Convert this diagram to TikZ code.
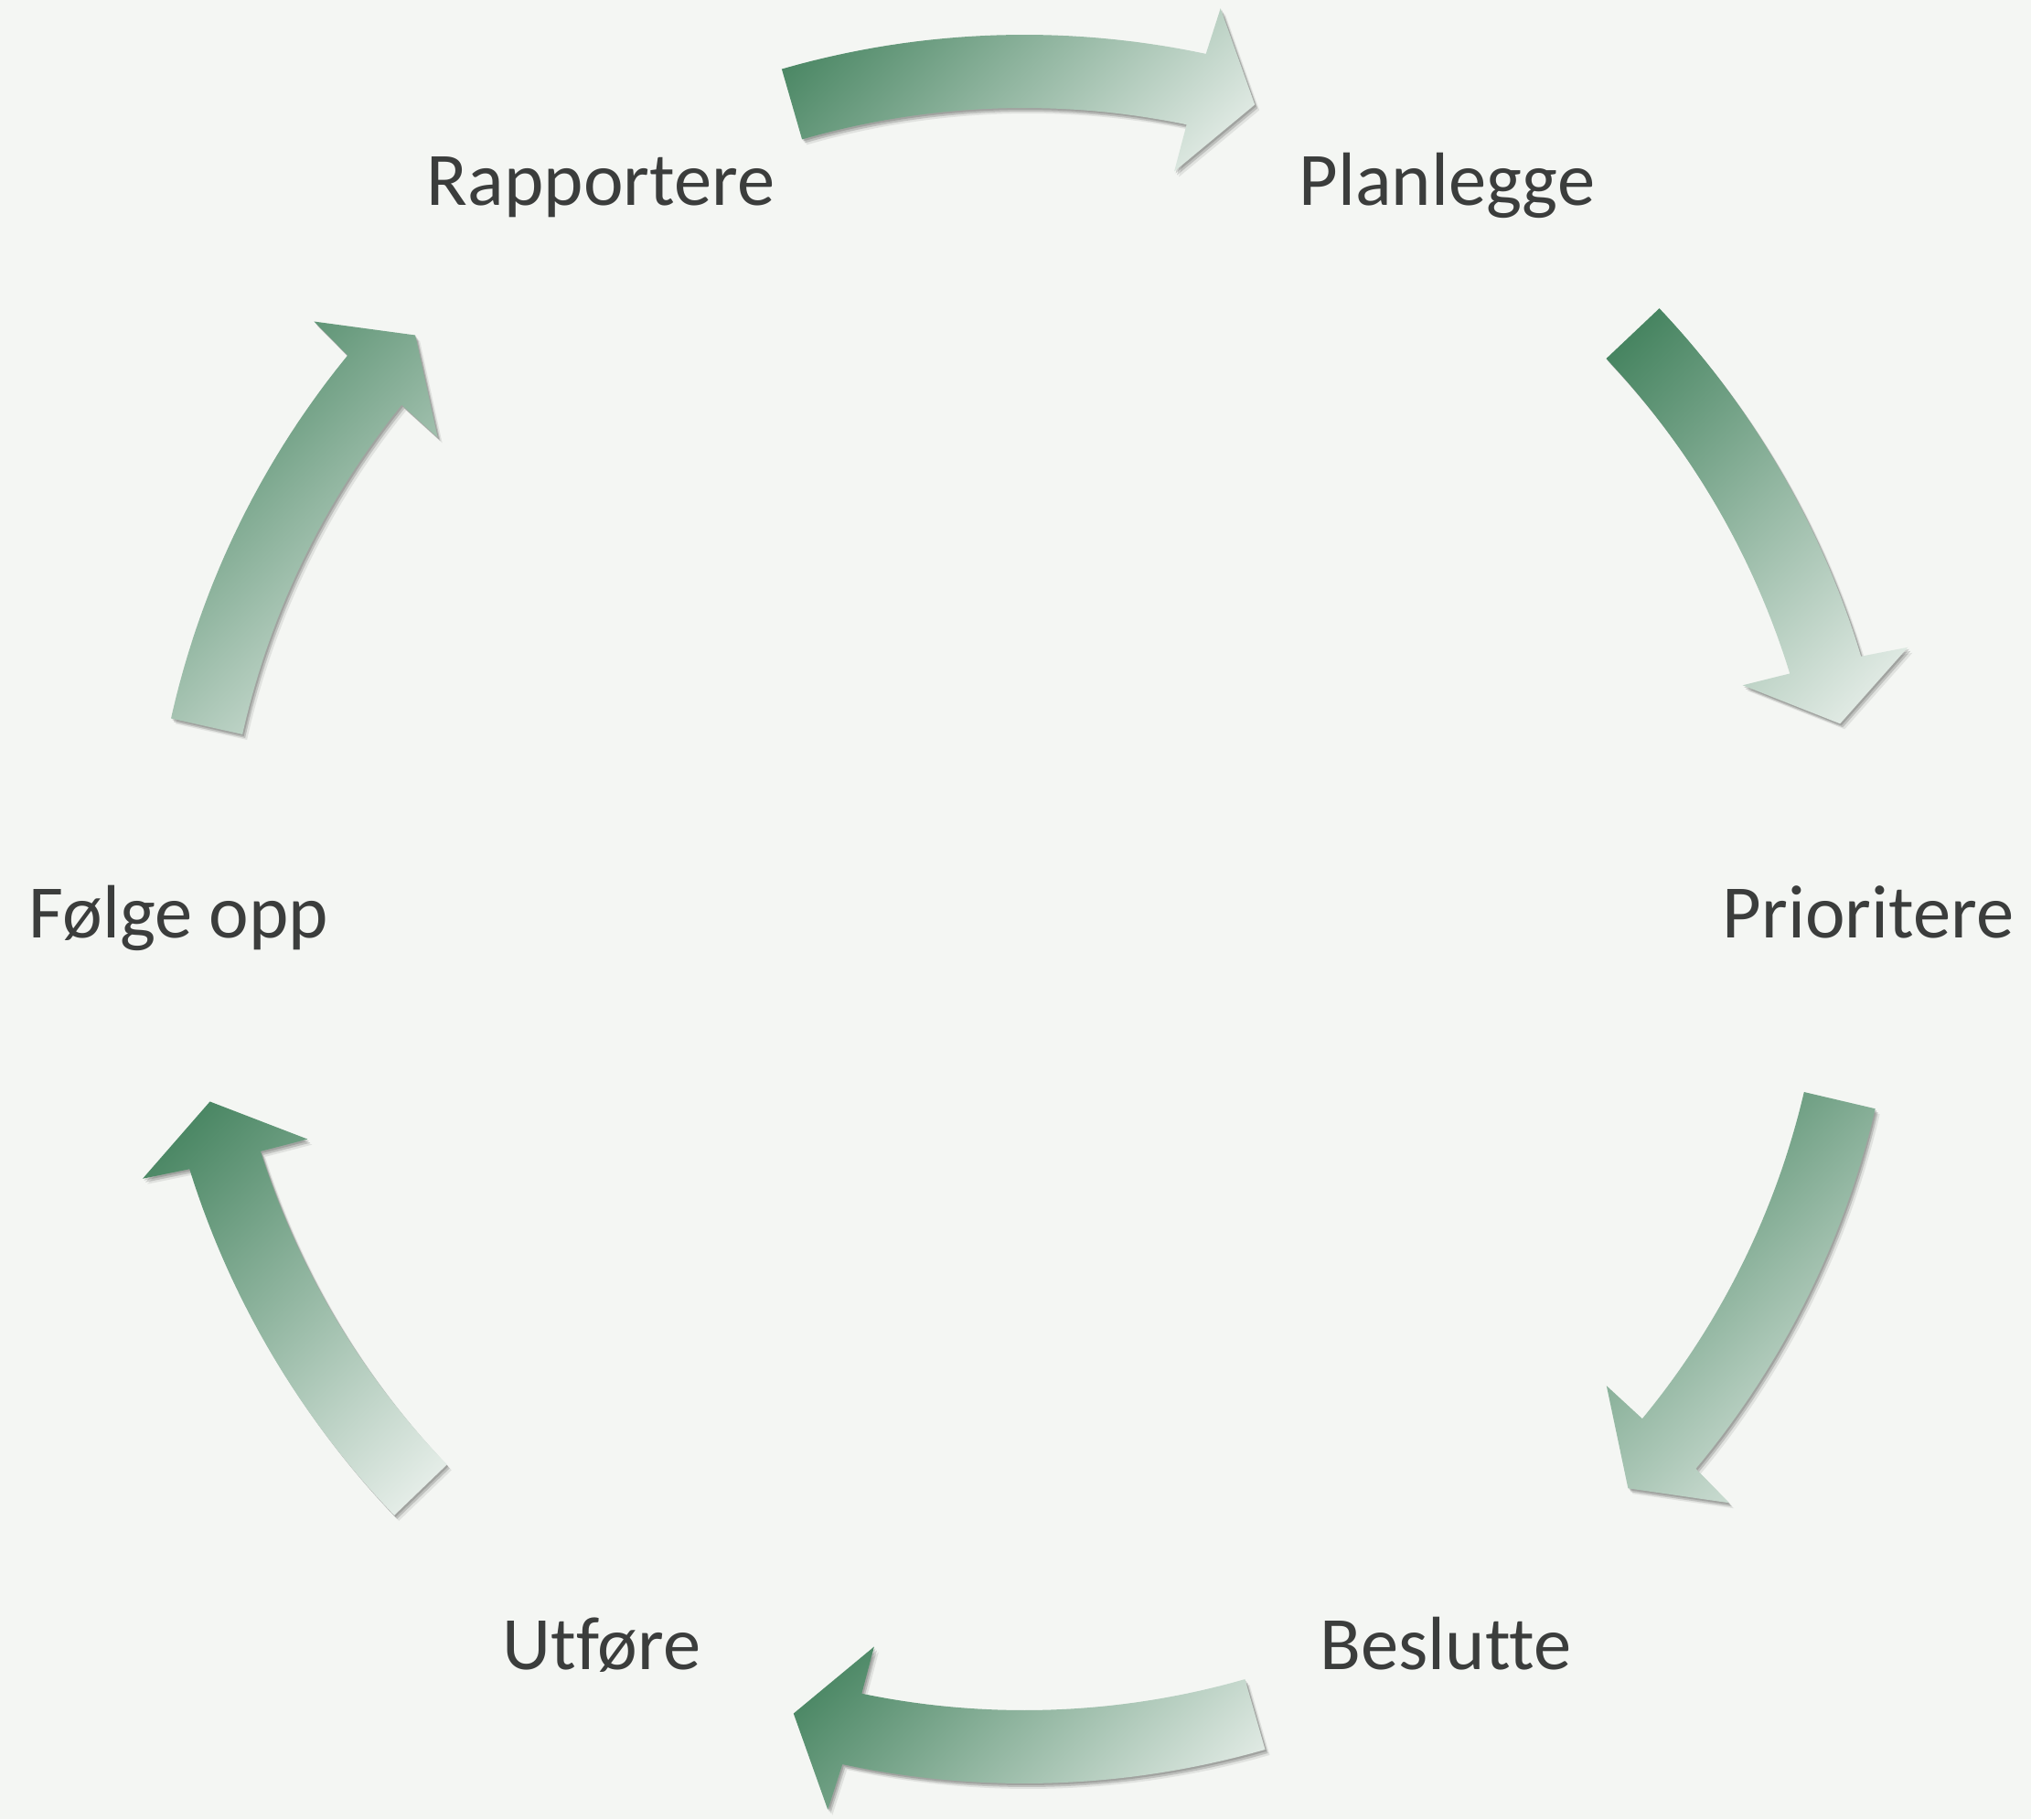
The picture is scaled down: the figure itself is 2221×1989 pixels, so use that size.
\documentclass[tikz,border=0pt]{standalone}
\usepackage{fontspec}
\setmainfont{Carlito}[Ligatures=NoCommon]
\definecolor{bg}{HTML}{F4F6F3}
\definecolor{grnD}{HTML}{3A7C56}
\definecolor{grnL}{HTML}{F1F5F2}
\definecolor{txt}{HTML}{3B3D3C}
\pgfdeclareverticalshading{cycshade}{100bp}{color(0bp)=(grnL); color(14.64bp)=(grnL); color(85.36bp)=(grnD); color(100bp)=(grnD)}
\tikzset{
  lbl/.style={font=\fontsize{47}{56}\selectfont, text=txt, inner sep=0pt, anchor=base},
  arrowfill/.style={shading=cycshade, shading angle=45},
  arrowshadow/.style={fill=black, opacity=0.15}
}
\newcommand{\cycarrowpath}{(\ta:956) -- plot[domain=\ta:\bo, samples=60] (\x:956) -- (\co:1008) -- (\tb:915) -- (\ci:823) -- (\bi:876) -- plot[domain=\bi:\ta, samples=60] (\x:876) -- cycle}
\newcommand{\cycarrow}[2]{%
  \pgfmathsetmacro{\ta}{#1}%
  \pgfmathsetmacro{\tb}{#2}%
  \pgfmathsetmacro{\bo}{\tb+4.0}%
  \pgfmathsetmacro{\co}{\tb+3.7}%
  \pgfmathsetmacro{\ci}{\tb+4.5}%
  \pgfmathsetmacro{\bi}{\tb+4.3}%
  \fill[arrowshadow, opacity=0.08, shift={(5,-6)}] \cycarrowpath;
  \fill[arrowshadow, shift={(3,-4)}] \cycarrowpath;
  \fill[arrowshadow, shift={(1.5,-2)}] \cycarrowpath;
  \path[arrowfill] \cycarrowpath;
}
\begin{document}
\begin{tikzpicture}[x=0.02cm,y=0.02cm]
\fill[bg] (-1120,-995) rectangle (1101,994);
\useasboundingbox (-1120,-995) rectangle (1101,994);

\cycarrow{106.1}{74.0}
\cycarrow{43.4}{12.8}
\cycarrow{-13.2}{-43.8}
\cycarrow{-74.0}{-106.0}
\cycarrow{-136.1}{-166.7}
\cycarrow{167.4}{136.7}

\node[lbl] (planlegge) at (462.5,769) {Planlegge};
\node[lbl] (prioritere) at (923,-31) {Prioritere};
\node[lbl] (beslutte) at (461,-831) {Beslutte};
\node[lbl] (utfore) at (-462,-831) {Utføre};
\node[lbl] (folge) at (-924.5,-31) {Følge opp};
\node[lbl] (rapportere) at (-463,769) {Rapportere};
\end{tikzpicture}
\end{document}
